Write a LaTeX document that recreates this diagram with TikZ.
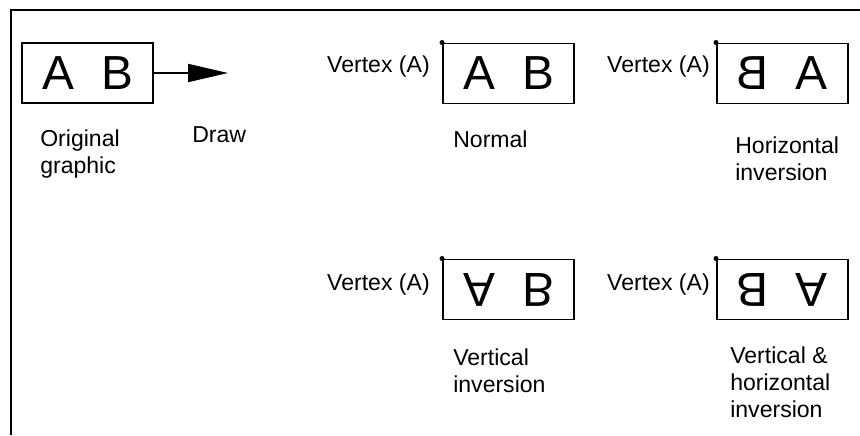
\documentclass[tikz,border=0pt]{standalone}
\usepackage{fontspec}
\setmainfont{Liberation Sans}
\usepackage{graphicx}
\usetikzlibrary{arrows.meta}

% flip a glyph upside down, keeping it on the baseline
\newcommand{\vflip}[1]{\raisebox{\depth}{\scalebox{1}[-1]{#1}}}
% two glyphs side by side in a box
\newcommand{\glyphpair}[2]{\makebox[1.475cm]{#1}\makebox[1.475cm]{#2}}

\tikzset{
    frame/.style={line width=1.4pt},
    glyphbox/.style={draw, line width=1.4pt, minimum width=3.275cm, minimum height=1.5cm,
        inner sep=0pt, font=\fontsize{34}{34}\selectfont},
    % captions sit on the baseline of their last line
    caption/.style={anchor=base west, align=left, inner sep=0pt,
        font=\fontsize{16.4}{19.2}\selectfont},
    vlabel/.style={anchor=base east, inner sep=0pt, font=\fontsize{16.4}{19.2}\selectfont},
}

\begin{document}
\begin{tikzpicture}
    \useasboundingbox (0,0) rectangle (21.5,-10.875);
    \draw[frame] (0.275,-10.875) -- (0.275,-0.25) -- (21.5,-0.25);

    % original graphic and draw arrow
    \node[glyphbox] (orig) at (2.1875,-1.825) {\glyphpair{A}{B}};
    \coordinate (drawtip) at (5.7,-1.825);
    \draw[line width=1.4pt, -{Triangle[length=1cm, width=0.45cm]}] (orig.east) -- (drawtip);
    \node[caption] (origcap) at (1.0,-4.325) {Original\\graphic};
    \node[caption] (drawcap) at (4.8,-3.55) {Draw};

    % the four ways of drawing
    \node[glyphbox] (normal) at (12.7125,-1.8375) {\glyphpair{A}{B}};
    \node[glyphbox] (hinv) at (19.5625,-1.8375) {\glyphpair{\reflectbox{B}}{\reflectbox{A}}};
    \node[glyphbox] (vinv) at (12.7125,-7.2375) {\glyphpair{\vflip{A}}{\vflip{B}}};
    \node[glyphbox] (vhinv) at (19.5625,-7.2375)
        {\glyphpair{\vflip{\reflectbox{B}}}{\vflip{\reflectbox{A}}}};

    \foreach \b in {normal,hinv,vinv,vhinv}
        \fill (\b.north west) circle (0.0625);

    \node[vlabel] (normalv) at (10.75,-1.8175) {Vertex (A)};
    \node[vlabel] (hinvv) at (17.75,-1.8175) {Vertex (A)};
    \node[vlabel] (vinvv) at (10.75,-7.25) {Vertex (A)};
    \node[vlabel] (vhinvv) at (17.75,-7.25) {Vertex (A)};

    \node[caption] (normalcap) at (11.325,-3.675) {Normal};
    \node[caption] (hinvcap) at (18.375,-4.5) {Horizontal\\inversion};
    \node[caption] (vinvcap) at (11.325,-9.8) {Vertical\\inversion};
    \node[caption] (vhinvcap) at (18.25,-10.425) {Vertical \&\\horizontal\\inversion};
\end{tikzpicture}
\end{document}
